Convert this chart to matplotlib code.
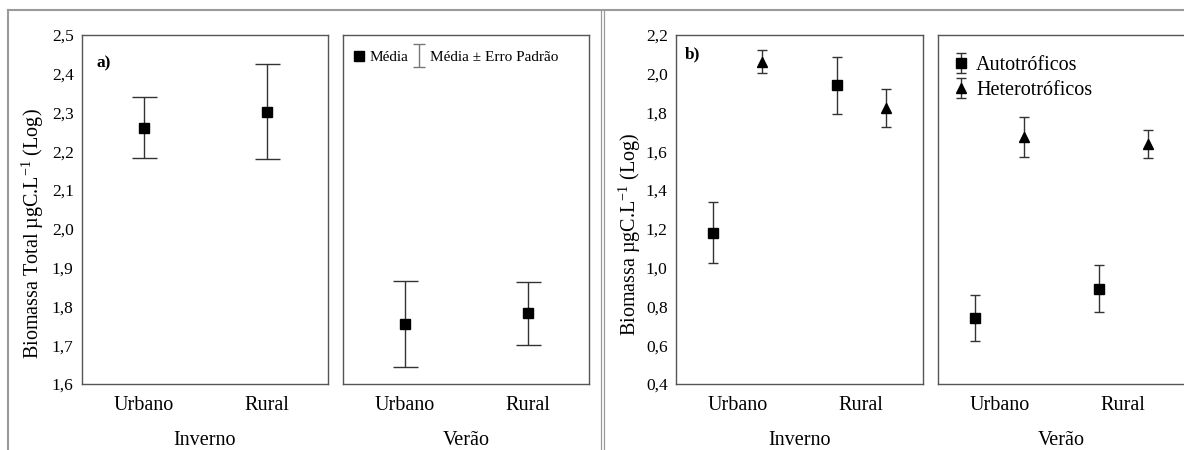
import matplotlib
matplotlib.use("Agg")
import matplotlib.pyplot as plt
from matplotlib.lines import Line2D
from matplotlib.legend_handler import HandlerErrorbar
import numpy as np

# ---------------- data ----------------
categories = ["Urbano", "Rural"]
seasons = ["Inverno", "Verão"]

# panel a) total biomass (log)
total_inverno_mean = [2.261, 2.302]
total_inverno_se = [0.078, 0.122]
total_verao_mean = [1.755, 1.782]
total_verao_se = [0.110, 0.082]

# panel b) autotrophic / heterotrophic biomass (log)
auto_inverno_mean = [1.180, 1.940]
auto_inverno_se = [0.157, 0.148]
hetero_inverno_mean = [2.062, 1.822]
hetero_inverno_se = [0.060, 0.097]
auto_verao_mean = [0.739, 0.892]
auto_verao_se = [0.118, 0.120]
hetero_verao_mean = [1.676, 1.638]
hetero_verao_se = [0.103, 0.074]

yticks_a = [1.6, 1.7, 1.8, 1.9, 2.0, 2.1, 2.2, 2.3, 2.4, 2.5]
yticks_b = [0.4, 0.6, 0.8, 1.0, 1.2, 1.4, 1.6, 1.8, 2.0, 2.2]

# ---------------- style ----------------
plt.rcParams["font.family"] = ["Liberation Serif", "DejaVu Serif"]
plt.rcParams["mathtext.fontset"] = "custom"
plt.rcParams["mathtext.rm"] = "Liberation Serif"
plt.rcParams["mathtext.it"] = "Liberation Serif:italic"
plt.rcParams["mathtext.bf"] = "Liberation Serif:bold"

W, H = 1184, 450
fig = plt.figure(figsize=(W / 100, H / 100), dpi=100)

def box(x0, x1, y_top=35, y_bot=384):
    return [x0 / W, 1 - y_bot / H, (x1 - x0) / W, (y_bot - y_top) / H]

ax1 = fig.add_axes(box(82, 328))
ax2 = fig.add_axes(box(343, 589))
ax3 = fig.add_axes(box(676, 923))
ax4 = fig.add_axes(box(938, 1185))

spine_col = "#555555"
err_col = "#333333"
tick_fs = 12.5
cat_fs = 14.5

x = np.arange(len(categories))

for ax in (ax1, ax2, ax3, ax4):
    for s in ax.spines.values():
        s.set_color(spine_col)
        s.set_linewidth(1.0)
    ax.set_xlim(-0.5, 1.5)
    ax.set_xticks(x)
    ax.set_xticklabels(categories, fontsize=cat_fs)
    ax.tick_params(axis="both", length=0)
    ax.tick_params(axis="x", pad=9)
    ax.tick_params(axis="y", pad=6, labelsize=tick_fs)

for ax, s in zip((ax1, ax2, ax3, ax4), seasons * 2):
    ax.set_xlabel(s, fontsize=cat_fs, labelpad=11)

# panel a
ax1.set_ylim(1.6, 2.5)
ax2.set_ylim(1.6, 2.5)
ax1.set_yticks(yticks_a)
ax1.set_yticklabels([f"{v:.1f}".replace(".", ",") for v in yticks_a])
ax2.set_yticks([])

ekw_a = dict(fmt="s", color="black", ms=7, ecolor=err_col, elinewidth=1.0,
             capsize=9, capthick=1.0)
ax1.errorbar(x, total_inverno_mean, yerr=total_inverno_se, **ekw_a)
ax2.errorbar(x, total_verao_mean, yerr=total_verao_se, **ekw_a)

ax1.set_ylabel("Biomassa Total µgC.L$^{-1}$ (Log)", fontsize=cat_fs)
ax1.yaxis.set_label_coords(-0.145, 0.43)
ax1.text(0.06, 0.92, "a)", transform=ax1.transAxes, fontsize=12.5,
         fontweight="bold", va="center", ha="left")

# legend panel a
h_mean = Line2D([], [], marker="s", color="black", linestyle="none", ms=7)
h_err = ax2.errorbar([np.nan], [np.nan], yerr=[0.1], fmt="none",
                     ecolor="#777777", elinewidth=1.0, capsize=4, capthick=1.0)
ax2.legend([h_mean, h_err], ["Média", "Média ± Erro Padrão"], ncol=2,
           loc="upper left", frameon=False, fontsize=11,
           handlelength=0.8, handletextpad=0.3, columnspacing=0.3,
           borderaxespad=0.25, bbox_to_anchor=(0.0, 0.985),
           handler_map={h_err: HandlerErrorbar(yerr_size=0.75)})

# panel b
off = 0.2
for ax in (ax3, ax4):
    ax.set_ylim(0.4, 2.2)
ax3.set_yticks(yticks_b)
ax3.set_yticklabels([f"{v:.1f}".replace(".", ",") for v in yticks_b])
ax4.set_yticks([])

ekw_b = dict(color="black", ecolor=err_col, elinewidth=1.0, capsize=3.8,
             capthick=1.0, linestyle="none")
h_auto = ax3.errorbar(x - off, auto_inverno_mean, yerr=auto_inverno_se,
                      marker="s", ms=7, **ekw_b)
h_het = ax3.errorbar(x + off, hetero_inverno_mean, yerr=hetero_inverno_se,
                     marker="^", ms=7.5, **ekw_b)
ax4.errorbar(x - off, auto_verao_mean, yerr=auto_verao_se,
             marker="s", ms=7, **ekw_b)
ax4.errorbar(x + off, hetero_verao_mean, yerr=hetero_verao_se,
             marker="^", ms=7.5, **ekw_b)

ax3.set_ylabel("Biomassa µgC.L$^{-1}$ (Log)", fontsize=cat_fs)
ax3.yaxis.set_label_coords(-0.135, 0.43)
ax3.text(0.035, 0.945, "b)", transform=ax3.transAxes, fontsize=12.5,
         fontweight="bold", va="center", ha="left")

ax4.legend([h_auto, h_het], ["Autotróficos", "Heterotróficos"],
           loc="upper left", frameon=False, fontsize=cat_fs,
           handlelength=0.9, handletextpad=0.3, labelspacing=0.3,
           borderaxespad=0.3, bbox_to_anchor=(0.0, 0.98),
           handler_map={h_auto: HandlerErrorbar(yerr_size=0.5),
                        h_het: HandlerErrorbar(yerr_size=0.5)})

# outer frame lines
frame_col = "#9a9a9a"
ytop = 1 - 10 / H
fig.add_artist(Line2D([8 / W, 1], [ytop, ytop], transform=fig.transFigure,
                      color=frame_col, lw=1.5))
fig.add_artist(Line2D([8 / W, 8 / W], [0, ytop], transform=fig.transFigure,
                      color=frame_col, lw=1.5))
for xp in (600.8, 603.5):
    fig.add_artist(Line2D([xp / W, xp / W], [0, ytop], transform=fig.transFigure,
                          color=frame_col, lw=0.9))

fig.savefig("out.png", dpi=100)
